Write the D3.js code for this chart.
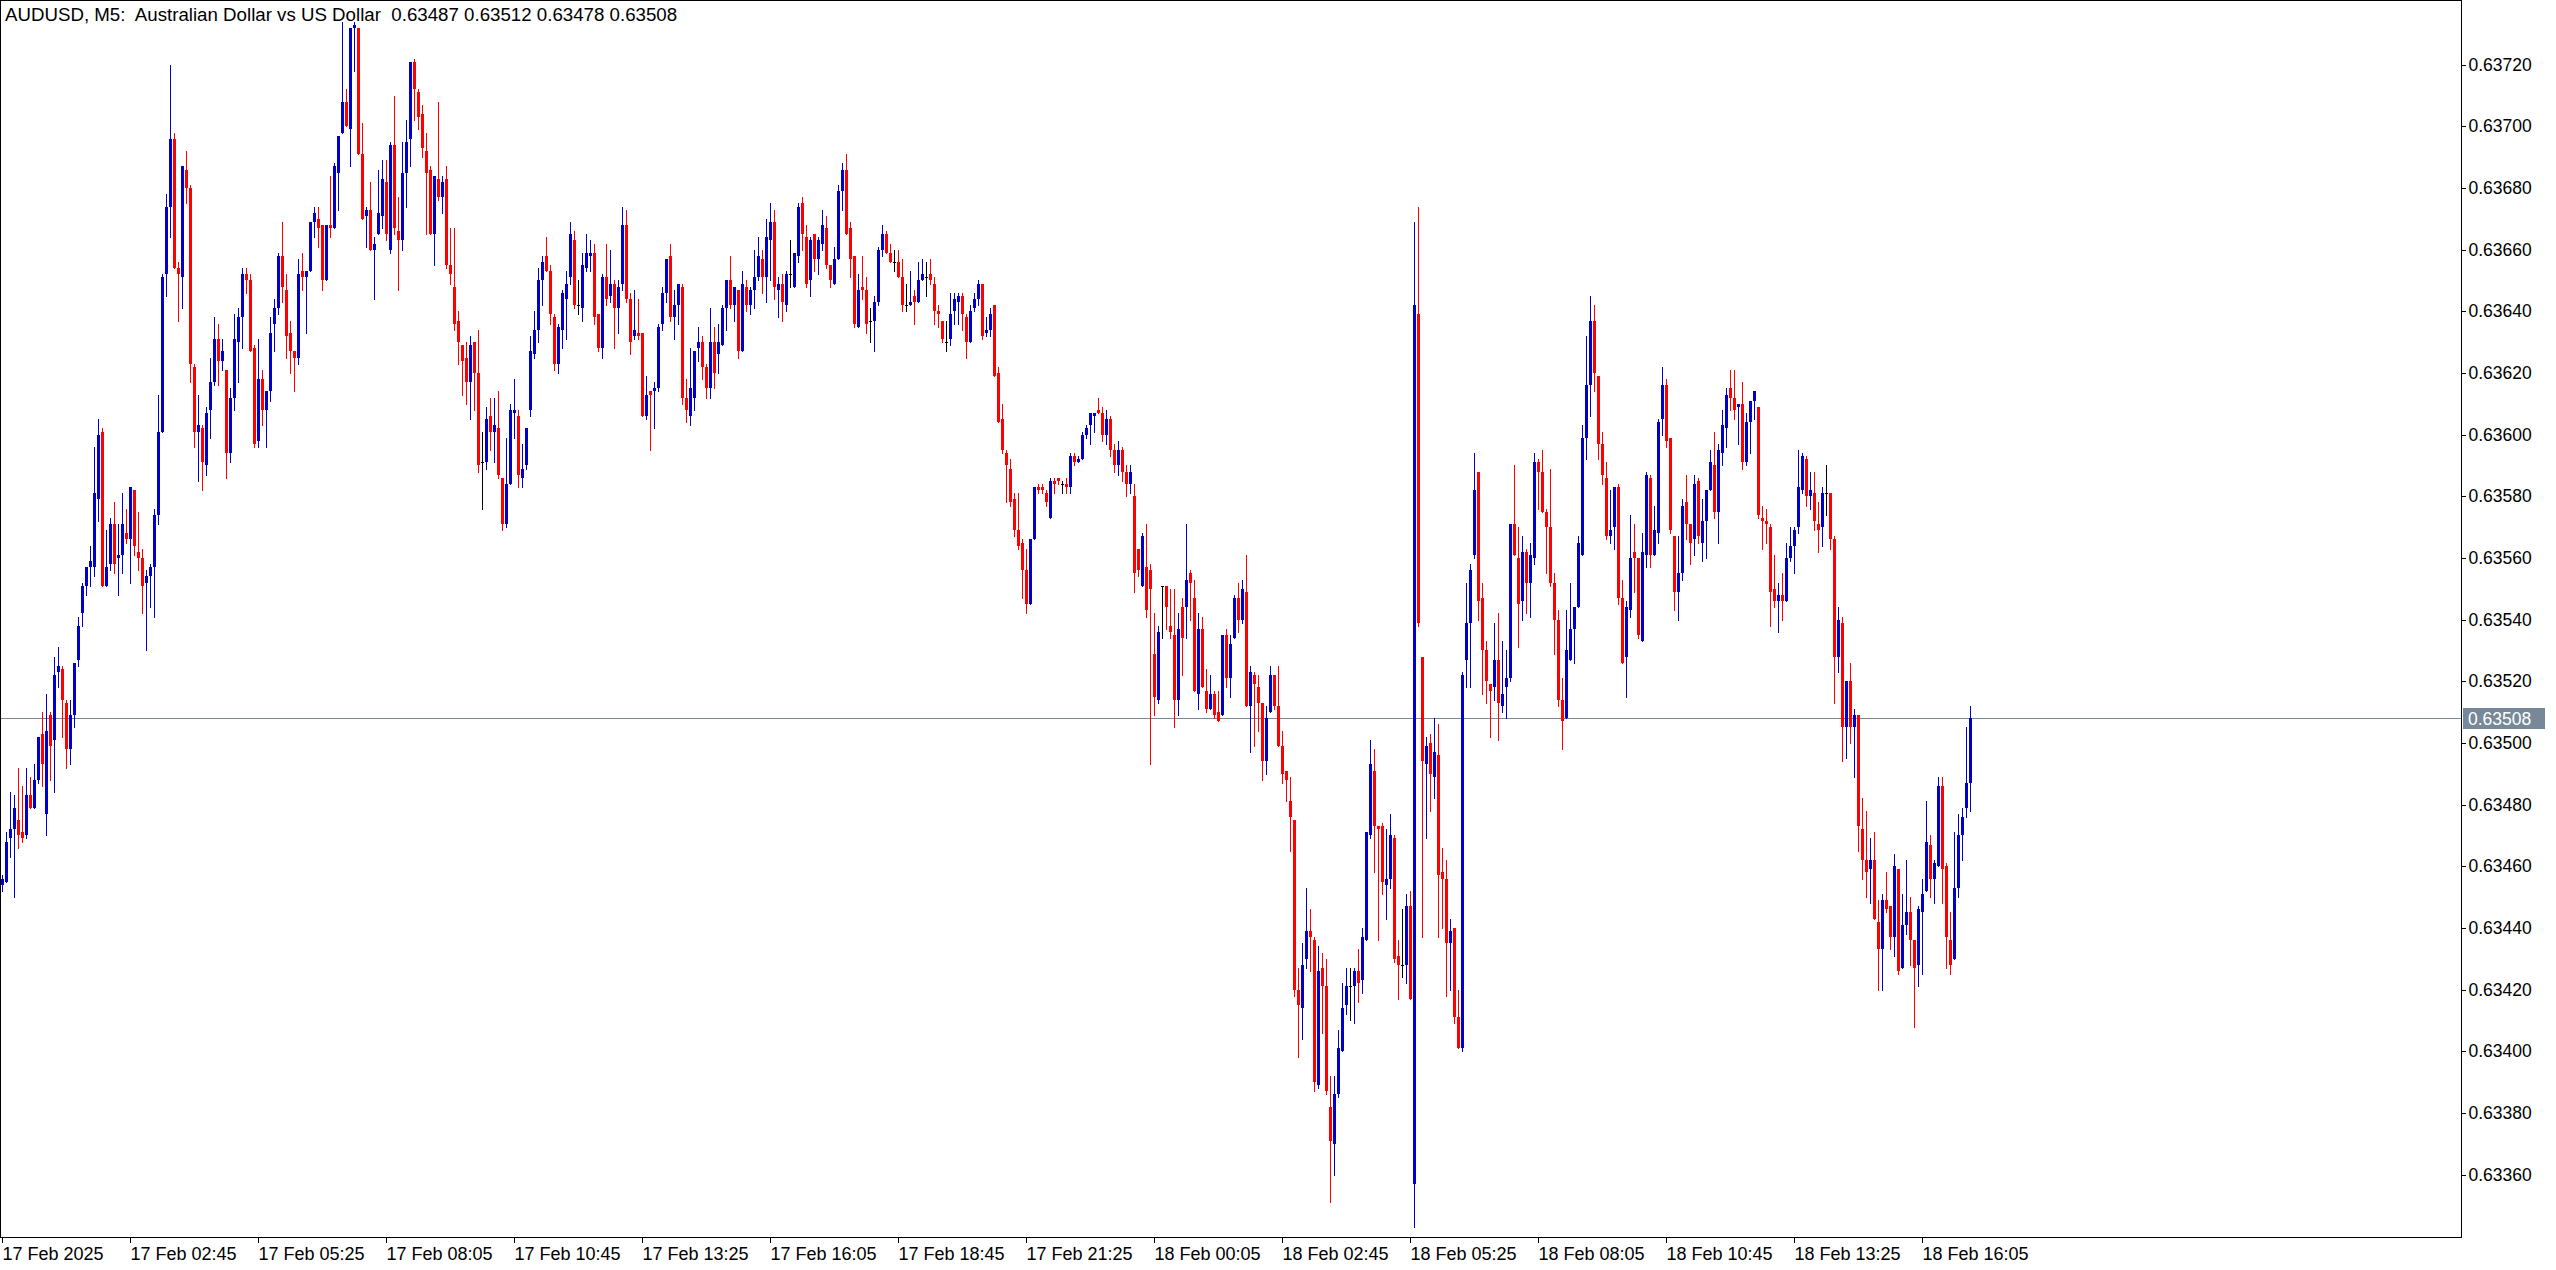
<!DOCTYPE html>
<html><head><meta charset="utf-8">
<script src="https://cdn.jsdelivr.net/npm/d3@7"></script>
<style>
html,body{margin:0;padding:0;background:#fff;overflow:hidden}
svg{display:block}
text{font-family:"Liberation Sans",Arial,sans-serif}
</style></head><body>
<svg id="chart" width="2556" height="1270"></svg>
<script>
// ---- DATA (prices in points, 1 point = 0.00001) ----
const titleText = "AUDUSD, M5:  Australian Dollar vs US Dollar  0.63487 0.63512 0.63478 0.63508";
const openPts = [
63454,63455,63469,63472,63475,63471,63470,63483,63479,63488,
63503,63477,63509,63501,63523,63524,63513,63498,63509,63527,
63542,63551,63557,63557,63579,63601,63551,63558,63571,63560,
63561,63568,63566,63582,63562,63560,63552,63554,63557,63574,
63601,63652,63674,63696,63654,63651,63686,63680,63622,63601,
63602,63590,63608,63617,63631,63624,63621,63594,63612,63630,
63638,63652,63650,63628,63598,63618,63608,63614,63636,63641,
63658,63647,63633,63627,63625,63653,63651,63653,63669,63670,
63668,63650,63668,63667,63685,63698,63708,63699,63732,63732,
63691,63671,63673,63660,63665,63671,63682,63660,63694,63666,
63663,63685,63696,63721,63711,63704,63692,63686,63665,63683,
63677,63683,63655,63648,63637,63629,63625,63617,63630,63620,
63591,63591,63606,63601,63602,63586,63571,63584,63607,63606,
63586,63590,63608,63626,63634,63650,63658,63653,63638,63623,
63634,63644,63651,63663,63642,63641,63654,63658,63659,63639,
63628,63651,63645,63649,63641,63649,63668,63644,63632,63633,
63633,63606,63614,63614,63615,63636,63646,63658,63638,63642,
63648,63612,63606,63612,63628,63630,63622,63615,63630,63626,
63629,63641,63650,63642,63647,63627,63648,63642,63647,63651,
63657,63651,63663,63669,63647,63649,63642,63652,63648,63658,
63675,63664,63650,63665,63657,63662,63667,63655,63649,63657,
63679,63686,63667,63658,63635,63648,63647,63637,63637,63643,
63660,63665,63659,63656,63656,63651,63642,63642,63645,63643,
63650,63651,63652,63649,63640,63637,63630,63631,63640,63643,
63645,63638,63630,63641,63644,63649,63633,63634,63642,63620,
63605,63594,63589,63579,63569,63565,63556,63545,63566,63583,
63583,63581,63573,63585,63586,63584,63584,63583,63593,63591,
63592,63600,63603,63606,63608,63607,63600,63605,63595,63590,
63595,63588,63584,63580,63563,63551,63557,63556,63529,63514,
63551,63551,63538,63535,63514,63544,63544,63555,63547,63516,
63537,63517,63511,63516,63510,63509,63535,63521,63534,63547,
63540,63549,63512,63522,63518,63513,63494,63510,63522,63512,
63499,63491,63481,63475,63420,63414,63430,63439,63436,63389,
63427,63421,63382,63370,63386,63400,63415,63421,63421,63426,
63423,63436,63470,63491,63473,63473,63454,63456,63469,63431,
63428,63428,63447,63357,63639,63528,63493,63500,63489,63496,
63458,63456,63435,63440,63411,63401,63527,63539,63561,63588,
63547,63530,63519,63518,63527,63512,63518,63521,63571,63560,
63546,63562,63552,63560,63591,63588,63575,63570,63552,63540,
63514,63508,63527,63537,63544,63561,63599,63616,63637,63619,
63597,63586,63567,63570,63583,63547,63528,63543,63562,63560,
63533,63561,63586,63561,63568,63605,63616,63599,63567,63549,
63555,63578,63571,63566,63585,63565,63572,63582,63590,63575,
63594,63602,63615,63612,63609,63610,63591,63604,63611,63609,
63573,63572,63570,63550,63546,63548,63546,63560,63564,63570,
63582,63592,63580,63581,63571,63570,63581,63581,63566,63528,
63539,63505,63520,63505,63509,63472,63462,63459,63462,63442,
63433,63449,63447,63437,63459,63427,63441,63445,63436,63428,
63445,63452,63467,63456,63460,63486,63460,63436,63430,63453,
63470,63479,63487];
const highPts = [
63457,63471,63484,63483,63492,63486,63492,63489,63493,63502,
63510,63516,63510,63528,63531,63525,63514,63514,63526,63541,
63552,63557,63564,63596,63605,63602,63569,63573,63578,63571,
63581,63576,63583,63582,63575,63563,63556,63558,63576,63613,
63652,63678,63720,63698,63656,63687,63692,63681,63623,63613,
63603,63609,63625,63638,63636,63631,63621,63615,63639,63641,
63654,63654,63652,63629,63631,63621,63614,63638,63644,63659,
63669,63652,63637,63627,63657,63659,63653,63669,63674,63674,
63668,63668,63684,63688,63697,63734,63712,63732,63734,63732,
63701,63674,63682,63664,63686,63689,63689,63695,63710,63677,
63695,63702,63721,63722,63712,63707,63698,63687,63684,63708,
63684,63687,63667,63667,63640,63629,63630,63632,63630,63634,
63601,63609,63612,63612,63614,63586,63599,63610,63618,63608,
63597,63602,63632,63640,63654,63658,63664,63655,63639,63636,
63647,63653,63669,63666,63650,63659,63665,63663,63662,63639,
63652,63662,63660,63650,63650,63674,63673,63646,63647,63644,
63633,63619,63614,63617,63636,63648,63657,63662,63647,63649,
63649,63618,63628,63627,63635,63632,63623,63641,63635,63636,
63642,63650,63658,63648,63647,63653,63650,63648,63660,63664,
63660,63670,63675,63673,63651,63652,63653,63663,63659,63675,
63677,63668,63664,63665,63664,63673,63671,63655,63661,63681,
63688,63691,63669,63658,63652,63658,63651,63641,63645,63661,
63668,63666,63662,63660,63660,63657,63649,63653,63647,63656,
63657,63656,63657,63651,63642,63637,63637,63646,63646,63646,
63646,63639,63642,63646,63650,63649,63638,63641,63642,63622,
63610,63595,63592,63581,63581,63566,63563,63566,63583,63584,
63584,63582,63586,63586,63586,63585,63586,63594,63594,63593,
63601,63603,63607,63607,63612,63609,63608,63606,63597,63598,
63596,63590,63590,63584,63563,63568,63571,63558,63542,63538,
63551,63551,63550,63550,63542,63547,63571,63556,63553,63542,
63541,63524,63522,63517,63517,63535,63537,63535,63548,63552,
63553,63561,63525,63523,63522,63513,63512,63525,63522,63525,
63504,63491,63489,63475,63427,63435,63453,63446,63437,63434,
63432,63430,63392,63392,63407,63422,63427,63427,63427,63433,
63440,63471,63501,63498,63473,63474,63472,63477,63470,63436,
63446,63451,63452,63669,63674,63528,63502,63503,63508,63506,
63466,63462,63443,63440,63420,63523,63552,63558,63594,63588,
63552,63533,63519,63539,63542,63533,63530,63571,63590,63570,
63567,63563,63565,63594,63592,63595,63576,63589,63555,63543,
63521,63543,63552,63544,63567,63603,63632,63645,63642,63619,
63601,63591,63582,63583,63584,63553,63546,63574,63571,63560,
63568,63588,63587,63577,63605,63622,63618,63599,63567,63567,
63579,63587,63571,63587,63586,63579,63582,63595,63601,63597,
63608,63615,63621,63621,63610,63617,63607,63611,63614,63609,
63577,63576,63571,63561,63552,63555,63565,63570,63570,63595,
63594,63593,63588,63588,63578,63583,63590,63581,63567,63544,
63541,63520,63526,63511,63509,63482,63478,63469,63471,63449,
63451,63458,63447,63464,63459,63451,63462,63450,63436,63447,
63456,63481,63470,63462,63489,63489,63461,63445,63471,63477,
63479,63505,63512];
const lowPts = [
63452,63455,63463,63450,63466,63468,63469,63479,63479,63487,
63486,63470,63488,63484,63518,63502,63492,63493,63505,63525,
63538,63548,63551,63554,63572,63551,63551,63556,63555,63548,
63555,63565,63552,63561,63556,63542,63530,63544,63541,63571,
63601,63645,63664,63654,63637,63641,63675,63617,63596,63585,
63582,63587,63599,63616,63616,63621,63586,63591,63608,63617,
63628,63646,63627,63596,63596,63603,63596,63611,63627,63639,
63643,63625,63620,63614,63623,63647,63633,63653,63664,63661,
63647,63650,63664,63667,63673,63698,63700,63687,63718,63691,
63670,63661,63660,63644,63665,63667,63663,63659,63665,63647,
63660,63674,63687,63702,63699,63690,63665,63665,63655,63676,
63672,63654,63649,63634,63623,63613,63610,63605,63608,63588,
63576,63589,63595,63591,63586,63569,63570,63584,63599,63583,
63583,63589,63606,63625,63630,63642,63653,63636,63621,63620,
63628,63631,63649,63641,63639,63637,63653,63653,63636,63627,
63625,63642,63643,63628,63633,63647,63643,63626,63631,63631,
63606,63605,63595,63602,63614,63634,63643,63637,63631,63636,
63610,63604,63603,63608,63624,63618,63612,63612,63615,63620,
63629,63634,63641,63637,63625,63627,63640,63639,63641,63650,
63646,63643,63650,63644,63638,63637,63640,63648,63648,63656,
63660,63648,63645,63653,63652,63660,63654,63648,63649,63657,
63673,63665,63651,63635,63635,63644,63633,63630,63627,63642,
63658,63659,63656,63653,63651,63640,63640,63642,63636,63643,
63650,63645,63649,63636,63635,63630,63627,63629,63636,63636,
63634,63625,63630,63640,63642,63631,63632,63632,63619,63604,
63594,63578,63577,63567,63563,63547,63542,63545,63566,63581,
63581,63577,63573,63581,63584,63581,63581,63581,63590,63591,
63592,63599,63597,63601,63607,63598,63597,63593,63588,63587,
63585,63580,63581,63549,63554,63551,63541,63493,63509,63513,
63534,63537,63534,63505,63509,63522,63534,63540,63517,63511,
63518,63510,63511,63508,63507,63509,63518,63515,63534,63536,
63539,63512,63497,63499,63504,63488,63490,63510,63511,63499,
63487,63481,63465,63418,63398,63404,63427,63426,63387,63388,
63406,63386,63351,63360,63385,63400,63412,63410,63409,63416,
63419,63436,63469,63458,63436,63451,63443,63453,63429,63417,
63424,63422,63417,63343,63538,63437,63469,63478,63482,63437,
63440,63418,63420,63409,63401,63400,63518,63518,63560,63540,
63516,63513,63502,63514,63501,63510,63508,63520,63561,63531,
63540,63542,63541,63558,63576,63575,63555,63551,63529,63512,
63498,63508,63527,63526,63544,63561,63592,63606,63614,63592,
63584,63566,63565,63563,63545,63526,63515,63541,63549,63534,
63533,63557,63557,63561,63565,63600,63596,63568,63543,63540,
63553,63566,63558,63561,63565,63559,63560,63582,63573,63565,
63590,63596,63608,63605,63597,63589,63590,63594,63605,63573,
63563,63565,63538,63544,63536,63540,63546,63559,63555,63568,
63581,63577,63576,63569,63562,63564,63574,63563,63513,63523,
63494,63495,63500,63489,63465,63456,63450,63448,63443,63420,
63420,63445,63433,63431,63425,63427,63438,63428,63408,63421,
63425,63452,63450,63448,63460,63448,63427,63425,63430,63450,
63462,63476,63478];
const closePts = [
63456,63468,63472,63479,63470,63469,63483,63479,63488,63502,
63493,63504,63499,63522,63525,63514,63498,63509,63526,63538,
63551,63557,63559,63581,63600,63551,63557,63571,63558,63561,
63571,63566,63583,63564,63560,63551,63554,63557,63574,63601,
63651,63674,63696,63654,63652,63687,63680,63623,63601,63603,
63591,63607,63617,63631,63624,63627,63594,63612,63631,63638,
63652,63650,63627,63597,63618,63608,63614,63633,63641,63658,
63648,63632,63627,63625,63652,63651,63653,63669,63672,63667,
63650,63668,63667,63687,63697,63708,63700,63732,63733,63691,
63670,63673,63660,63662,63672,63683,63665,63694,63667,63663,
63685,63695,63721,63712,63703,63693,63685,63665,63684,63677,
63682,63655,63652,63636,63630,63624,63617,63629,63620,63590,
63591,63605,63601,63603,63587,63571,63584,63608,63608,63587,
63589,63602,63627,63634,63650,63656,63653,63639,63623,63635,
63646,63649,63665,63642,63642,63655,63659,63659,63638,63628,
63651,63644,63649,63641,63648,63668,63644,63630,63634,63632,
63606,63613,63613,63615,63635,63646,63657,63638,63642,63649,
63612,63608,63615,63627,63630,63622,63615,63630,63620,63630,
63641,63650,63642,63648,63627,63649,63642,63647,63651,63658,
63651,63664,63669,63648,63649,63643,63652,63652,63659,63674,
63665,63649,63663,63657,63663,63668,63655,63650,63657,63679,
63686,63665,63657,63636,63647,63647,63636,63637,63643,63660,
63665,63659,63656,63656,63651,63642,63642,63643,63643,63650,
63652,63651,63650,63640,63639,63631,63630,63639,63644,63645,
63639,63630,63640,63644,63649,63632,63634,63639,63619,63604,
63595,63590,63578,63569,63564,63556,63545,63566,63583,63582,
63582,63578,63585,63584,63585,63584,63583,63593,63591,63592,
63600,63602,63607,63607,63607,63600,63605,63595,63590,63595,
63588,63584,63588,63555,63556,63567,63543,63550,63515,63536,
63551,63544,63536,63514,63537,63534,63553,63552,63517,63537,
63518,63511,63516,63509,63507,63535,63521,63532,63547,63540,
63550,63512,63523,63519,63513,63494,63508,63522,63512,63499,
63490,63488,63476,63420,63415,63428,63439,63437,63390,63426,
63421,63387,63371,63386,63401,63414,63421,63421,63426,63422,
63437,63471,63493,63473,63472,63455,63456,63470,63430,63428,
63428,63447,63417,63642,63539,63494,63499,63490,63497,63457,
63456,63435,63439,63411,63401,63522,63539,63556,63582,63546,
63530,63520,63517,63527,63513,63516,63521,63571,63561,63545,
63562,63552,63561,63591,63588,63575,63570,63552,63540,63514,
63507,63530,63537,63544,63565,63599,63616,63637,63620,63597,
63587,63567,63569,63583,63547,63526,63544,63560,63560,63535,
63562,63587,63561,63569,63604,63616,63598,63569,63549,63555,
63577,63571,63565,63584,63567,63572,63582,63591,63575,63595,
63603,63613,63612,63608,63610,63591,63604,63611,63614,63574,
63572,63571,63549,63546,63548,63546,63560,63564,63569,63583,
63593,63580,63582,63572,63569,63581,63581,63566,63528,63540,
63505,63520,63505,63509,63473,63462,63458,63462,63443,63433,
63449,63446,63437,63460,63426,63441,63445,63436,63427,63446,
63451,63468,63456,63461,63486,63459,63437,63428,63453,63470,
63476,63487,63508];
const priceTicks = [0.63360,0.63380,0.63400,0.63420,0.63440,0.63460,0.63480,0.63500,0.63520,
  0.63540,0.63560,0.63580,0.63600,0.63620,0.63640,0.63660,0.63680,0.63700,0.63720];
const timeTickBars = [0,32,64,96,128,160,192,224,256,288,320,352,384,416,448,480];
const timeTickLabels = ["17 Feb 2025","17 Feb 02:45","17 Feb 05:25","17 Feb 08:05","17 Feb 10:45",
  "17 Feb 13:25","17 Feb 16:05","17 Feb 18:45","17 Feb 21:25","18 Feb 00:05","18 Feb 02:45",
  "18 Feb 05:25","18 Feb 08:05","18 Feb 10:45","18 Feb 13:25","18 Feb 16:05"];
const lastPrice = 0.63508;

// ---- build ----
const PT = 1e5;
const bars = openPts.map((o, i) => ({
  i, o: o / PT, h: highPts[i] / PT, l: lowPts[i] / PT, c: closePts[i] / PT
}));
const N = bars.length;

const W = 2556, H = 1270;
const plotLeft = 0, plotRight = 2461, plotTop = 0, plotBottom = 1237;

const svg = d3.select("#chart");
svg.append("rect").attr("x", 0).attr("y", 0).attr("width", W).attr("height", H).attr("fill", "#fff");

const y = d3.scaleLinear().domain([0.63360, 0.63720]).range([1174.5, 64.7]);
const x = d3.scaleLinear().domain([0, N]).range([1, 1 + 4 * N]);  // left edge of each bar slot
const BODY = 3;

const colorOf = d => d.c > d.o ? "#0000cd" : (d.c < d.o ? "#ff0000" : "#000000");

// current price line
const yLast = Math.round(y(lastPrice)) + 0.5;
svg.append("line").attr("x1", plotLeft).attr("x2", plotRight).attr("y1", yLast).attr("y2", yLast)
  .attr("stroke", "#778899").attr("stroke-width", 1);

// candles
const g = svg.append("g").attr("shape-rendering", "crispEdges");
g.selectAll("rect.wick").data(bars).join("rect").attr("class", "wick")
  .attr("x", d => x(d.i) + 1)
  .attr("y", d => Math.round(y(d.h)))
  .attr("width", 1)
  .attr("height", d => Math.max(1, Math.round(y(d.l)) - Math.round(y(d.h)) + 1))
  .attr("fill", colorOf);
g.selectAll("rect.body").data(bars).join("rect").attr("class", "body")
  .attr("x", d => x(d.i))
  .attr("y", d => Math.round(y(Math.max(d.o, d.c))))
  .attr("width", BODY)
  .attr("height", d => Math.max(1, Math.round(y(Math.min(d.o, d.c))) - Math.round(y(Math.max(d.o, d.c)))))
  .attr("fill", colorOf);

// frame
svg.append("rect").attr("x", plotLeft + 0.5).attr("y", plotTop + 0.5)
  .attr("width", plotRight - plotLeft).attr("height", plotBottom - plotTop)
  .attr("fill", "none").attr("stroke", "#000").attr("stroke-width", 1);

// right price axis
const yAxis = d3.axisRight(y).tickValues(priceTicks).tickFormat(d3.format(".5f")).tickSize(4).tickPadding(3);
const ya = svg.append("g").attr("transform", `translate(${plotRight + 0.5},0)`).call(yAxis);
ya.select(".domain").remove();
ya.selectAll(".tick line").attr("stroke", "#000").attr("shape-rendering", "crispEdges");
ya.selectAll(".tick text").attr("fill", "#000").attr("font-size", 17.5)
  .attr("font-family", "'Liberation Sans', Arial, sans-serif");

// current price label
svg.append("rect").attr("x", plotRight + 2).attr("y", yLast - 10.5).attr("width", 82).attr("height", 21)
  .attr("fill", "#778899");
svg.append("text").attr("x", plotRight + 7).attr("y", yLast).attr("dy", "0.35em")
  .attr("fill", "#fff").attr("font-size", 17.5).text(d3.format(".5f")(lastPrice));

// bottom time axis
const tg = svg.append("g");
timeTickBars.forEach((b, k) => {
  const cx = x(b) + 1.5;
  tg.append("line").attr("x1", cx).attr("x2", cx).attr("y1", plotBottom).attr("y2", plotBottom + 6)
    .attr("stroke", "#000").attr("shape-rendering", "crispEdges");
  tg.append("text").attr("x", cx).attr("y", 1260).attr("font-size", 18).attr("fill", "#000")
    .text(timeTickLabels[k]);
});

// title
svg.append("text").attr("x", 5).attr("y", 21).attr("font-size", 18.7).attr("fill", "#000")
  .style("white-space", "pre").text(titleText);
</script>
</body></html>
